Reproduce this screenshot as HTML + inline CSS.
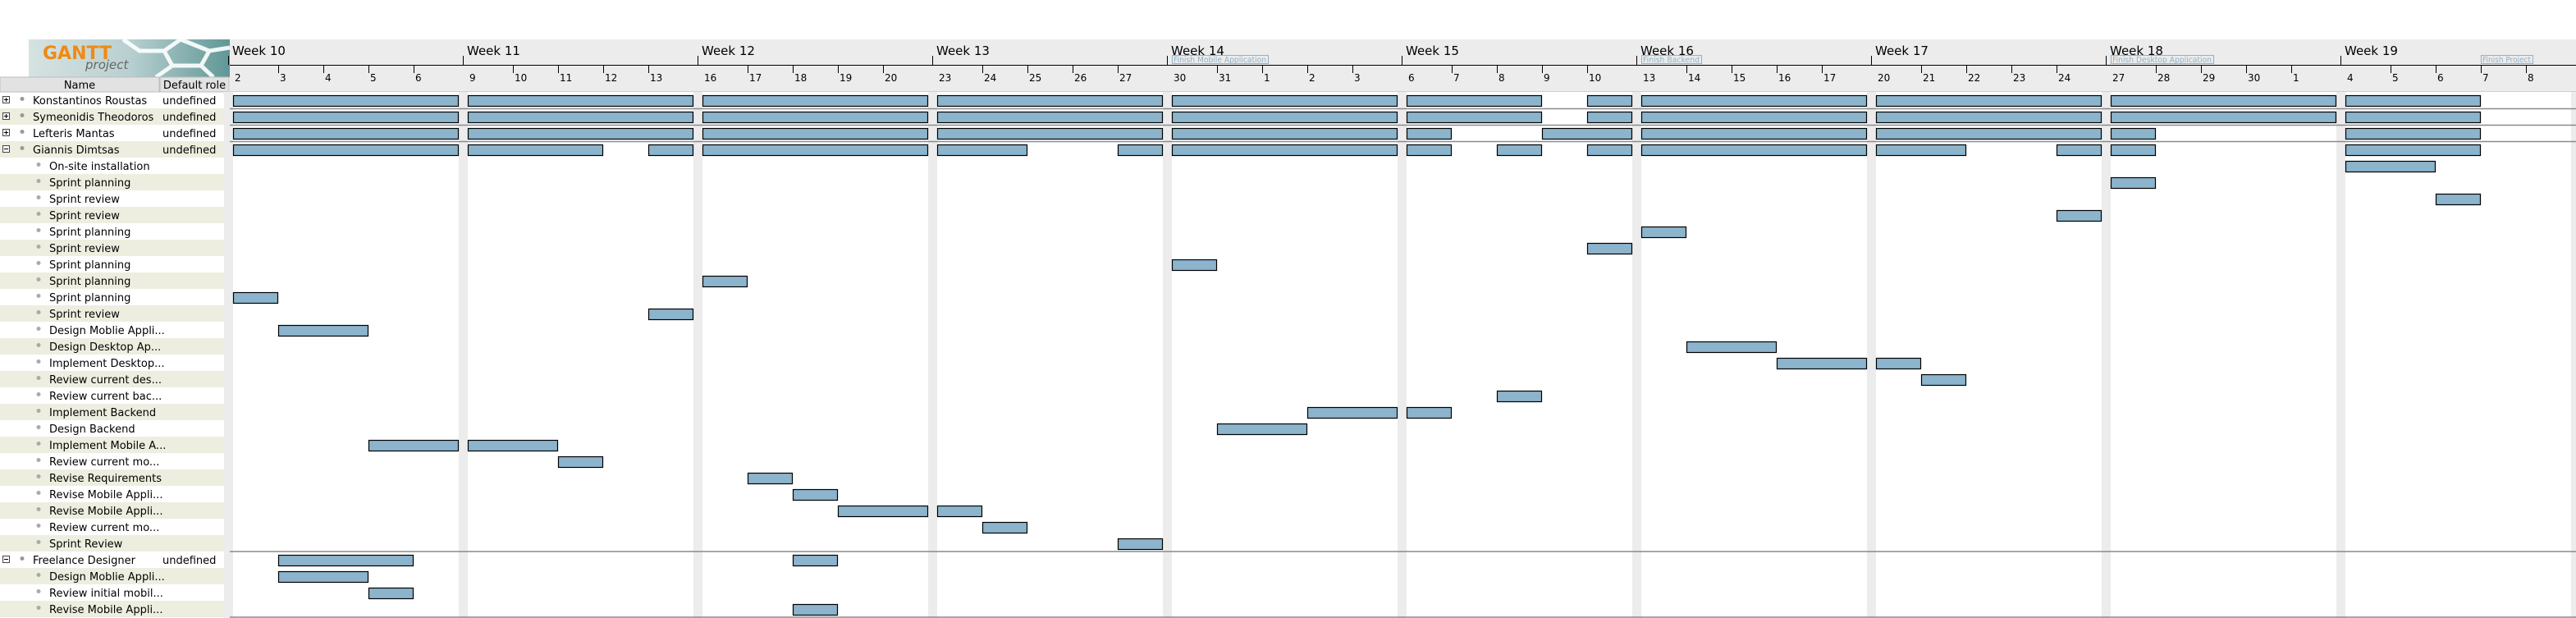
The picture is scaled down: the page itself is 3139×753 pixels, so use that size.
<!DOCTYPE html>
<html><head><meta charset="utf-8"><style>
html,body{margin:0;padding:0;background:#fff;width:3139px;height:753px;overflow:hidden}
svg{display:block}
text{font-family:"DejaVu Sans","Liberation Sans",sans-serif;fill:#000}
</style></head><body>
<svg id="s" width="3139" height="753" viewBox="0 0 3139 753" xmlns="http://www.w3.org/2000/svg">
<defs>
<linearGradient id="lg" x1="0" y1="0" x2="1" y2="0">
<stop offset="0" stop-color="#d6e2e2"/><stop offset="0.5" stop-color="#b9d0d0"/><stop offset="1" stop-color="#5f9796"/>
</linearGradient>
</defs>
<!-- header bg -->
<rect x="280" y="48" width="2859" height="64" fill="#ececec"/>
<line x1="280" y1="111.5" x2="3139" y2="111.5" stroke="#cfcfcf"/>
<line x1="280" y1="79.5" x2="3139" y2="79.5" stroke="#000"/>
<!-- logo -->
<rect x="35" y="48" width="245" height="46" fill="url(#lg)"/>
<g fill="none" stroke="#fff" stroke-width="5" opacity="0.9">
<path d="M150 48 L170 62 L200 62 L220 48 M200 62 L210 80 L190 94 M210 80 L245 80 L260 94 M245 80 L255 62 L280 58 M220 48 L255 62"/>
</g>
<text x="52" y="72" font-family="Liberation Sans,sans-serif" font-weight="bold" font-size="22" style="fill:#f08a12">GANTT</text>
<text x="104" y="84" font-family="Liberation Serif,serif" font-style="italic" font-size="15" style="fill:#666">project</text>
<!-- table header -->
<rect x="0" y="94" width="194" height="18" fill="#e2e2e2" stroke="#bdbdbd"/>
<rect x="195" y="94" width="84" height="18" fill="#e2e2e2" stroke="#bdbdbd"/>
<text x="97" y="108" font-size="13" text-anchor="middle">Name</text>
<text x="237" y="108" font-size="13" text-anchor="middle">Default role</text>
<g id="rowbg"></g>
<g id="grid"></g>
<g id="bars"></g>
<g font-size="15">
<text x="283" y="67">Week 10</text><text x="569" y="67">Week 11</text><text x="855" y="67">Week 12</text><text x="1141" y="67">Week 13</text><text x="1427" y="67">Week 14</text><text x="1713" y="67">Week 15</text><text x="1999" y="67">Week 16</text><text x="2285" y="67">Week 17</text><text x="2571" y="67">Week 18</text><text x="2857" y="67">Week 19</text>
</g>
<g font-size="12">
<text x="286" y="99">2</text><text x="341" y="99">3</text><text x="396" y="99">4</text><text x="451" y="99">5</text><text x="506" y="99">6</text>
<text x="572" y="99">9</text><text x="627" y="99">10</text><text x="682" y="99">11</text><text x="737" y="99">12</text><text x="792" y="99">13</text>
<text x="858" y="99">16</text><text x="913" y="99">17</text><text x="968" y="99">18</text><text x="1023" y="99">19</text><text x="1078" y="99">20</text>
<text x="1144" y="99">23</text><text x="1199" y="99">24</text><text x="1254" y="99">25</text><text x="1309" y="99">26</text><text x="1364" y="99">27</text>
<text x="1430" y="99">30</text><text x="1485" y="99">31</text><text x="1540" y="99">1</text><text x="1595" y="99">2</text><text x="1650" y="99">3</text>
<text x="1716" y="99">6</text><text x="1771" y="99">7</text><text x="1826" y="99">8</text><text x="1881" y="99">9</text><text x="1936" y="99">10</text>
<text x="2002" y="99">13</text><text x="2057" y="99">14</text><text x="2112" y="99">15</text><text x="2167" y="99">16</text><text x="2222" y="99">17</text>
<text x="2288" y="99">20</text><text x="2343" y="99">21</text><text x="2398" y="99">22</text><text x="2453" y="99">23</text><text x="2508" y="99">24</text>
<text x="2574" y="99">27</text><text x="2629" y="99">28</text><text x="2684" y="99">29</text><text x="2739" y="99">30</text><text x="2794" y="99">1</text>
<text x="2860" y="99">4</text><text x="2915" y="99">5</text><text x="2970" y="99">6</text><text x="3025" y="99">7</text><text x="3080" y="99">8</text>
</g>
<!-- milestones -->
<g font-family="Liberation Sans,sans-serif" font-size="10">
<rect x="1428.5" y="67.5" width="117" height="10" fill="#ececec" stroke="#8db3cc"/><text x="1430" y="76" textLength="113" lengthAdjust="spacingAndGlyphs" font-family="Liberation Sans,sans-serif" style="fill:#8db3cc">Finish Mobile Application</text>
<rect x="2000.5" y="67.5" width="73" height="10" fill="#ececec" stroke="#8db3cc"/><text x="2002" y="76" textLength="69" lengthAdjust="spacingAndGlyphs" font-family="Liberation Sans,sans-serif" style="fill:#8db3cc">Finish Backend</text>
<rect x="2572.5" y="67.5" width="125" height="10" fill="#ececec" stroke="#8db3cc"/><text x="2574" y="76" textLength="121" lengthAdjust="spacingAndGlyphs" font-family="Liberation Sans,sans-serif" style="fill:#8db3cc">Finish Desktop Application</text>
<rect x="3023.5" y="67.5" width="63" height="10" fill="#ececec" stroke="#8db3cc"/><text x="3025" y="76" textLength="59" lengthAdjust="spacingAndGlyphs" font-family="Liberation Sans,sans-serif" style="fill:#8db3cc">Finish Project</text>
</g>
<!-- names -->
<g font-size="13">
<text x="40" y="127">Konstantinos Roustas</text><text x="198" y="127">undefined</text>
<text x="40" y="147">Symeonidis Theodoros</text><text x="198" y="147">undefined</text>
<text x="40" y="167">Lefteris Mantas</text><text x="198" y="167">undefined</text>
<text x="40" y="187">Giannis Dimtsas</text><text x="198" y="187">undefined</text>
<text x="60" y="207">On-site installation</text>
<text x="60" y="227">Sprint planning</text>
<text x="60" y="247">Sprint review</text>
<text x="60" y="267">Sprint review</text>
<text x="60" y="287">Sprint planning</text>
<text x="60" y="307">Sprint review</text>
<text x="60" y="327">Sprint planning</text>
<text x="60" y="347">Sprint planning</text>
<text x="60" y="367">Sprint planning</text>
<text x="60" y="387">Sprint review</text>
<text x="60" y="407">Design Moblie Appli...</text>
<text x="60" y="427">Design Desktop Ap...</text>
<text x="60" y="447">Implement Desktop...</text>
<text x="60" y="467">Review current des...</text>
<text x="60" y="487">Review current bac...</text>
<text x="60" y="507">Implement Backend</text>
<text x="60" y="527">Design Backend</text>
<text x="60" y="547">Implement Mobile A...</text>
<text x="60" y="567">Review current mo...</text>
<text x="60" y="587">Revise Requirements</text>
<text x="60" y="607">Revise Mobile Appli...</text>
<text x="60" y="627">Revise Mobile Appli...</text>
<text x="60" y="647">Review current mo...</text>
<text x="60" y="667">Sprint Review</text>
<text x="40" y="687">Freelance Designer</text><text x="198" y="687">undefined</text>
<text x="60" y="707">Design Moblie Appli...</text>
<text x="60" y="727">Review initial mobil...</text>
<text x="60" y="747">Revise Mobile Appli...</text>
</g>
<g id="icons"></g>
</svg>
<script>
var NS="http://www.w3.org/2000/svg";
function el(p,t,a){var e=document.createElementNS(NS,t);for(var k in a)e.setAttribute(k,a[k]);document.getElementById(p).appendChild(e);return e;}
// row backgrounds left panel
for(var r=0;r<32;r++){ if(r%2==1) el("rowbg","rect",{x:0,y:112+20*r,width:280,height:20,fill:"#eeeee0"}); }
// weekend strips + ticks
for(var w=0;w<11;w++){var d0=284+286*w;
 el("grid","rect",{x:d0-11,y:112,width:11,height:641,fill:"#ececec"});
 if(w<10){el("grid","line",{x1:d0-5.5,y1:68,x2:d0-5.5,y2:79,stroke:"#000"});
  for(var d=1;d<5;d++){var x=d0+55*d+0.5;el("grid","line",{x1:x,y1:80,x2:x,y2:89,stroke:"#000"});}}
}
[132,152,172].forEach(function(y){el("grid","line",{x1:280,y1:y+0.5,x2:3139,y2:y+0.5,stroke:"#8a8a8a","stroke-width":1.5});});
el("grid","line",{x1:280,y1:672,x2:3139,y2:672,stroke:"#8a8a8a","stroke-width":1.5});
el("grid","line",{x1:280,y1:752,x2:3139,y2:752,stroke:"#8a8a8a","stroke-width":1.5});
var F=[[0,0,5],[1,0,5],[2,0,5],[3,0,5],[4,0,5]];
var B={0:F.concat([[5,0,3],[5,4,1],[6,0,5],[7,0,5],[8,0,5],[9,0,3]])};
B[1]=B[0];
B[2]=F.concat([[5,0,1],[5,3,2],[6,0,5],[7,0,5],[8,0,1],[9,0,3]]);
B[3]=[[0,0,5],[1,0,3],[1,4,1],[2,0,5],[3,0,2],[3,4,1],[4,0,5],[5,0,1],[5,2,1],[5,4,1],[6,0,5],[7,0,2],[7,4,1],[8,0,1],[9,0,3]];
B[4]=[[9,0,2]];B[5]=[[8,0,1]];B[6]=[[9,2,1]];B[7]=[[7,4,1]];B[8]=[[6,0,1]];B[9]=[[5,4,1]];
B[10]=[[4,0,1]];B[11]=[[2,0,1]];B[12]=[[0,0,1]];B[13]=[[1,4,1]];
B[14]=[[0,1,2]];B[15]=[[6,1,2]];B[16]=[[6,3,2],[7,0,1]];B[17]=[[7,1,1]];B[18]=[[5,2,1]];
B[19]=[[4,3,2],[5,0,1]];B[20]=[[4,1,2]];B[21]=[[0,3,2],[1,0,2]];B[22]=[[1,2,1]];B[23]=[[2,1,1]];
B[24]=[[2,2,1]];B[25]=[[2,3,2],[3,0,1]];B[26]=[[3,1,1]];B[27]=[[3,4,1]];
B[28]=[[0,1,3],[2,2,1]];B[29]=[[0,1,2]];B[30]=[[0,3,1]];B[31]=[[2,2,1]];
for(var r in B){B[r].forEach(function(b){var x=284+286*b[0]+55*b[1];
 el("bars","rect",{x:x+0.5,y:112+20*r+4.5,width:55*b[2]-1,height:13,fill:"#8cb4cc",stroke:"#000","stroke-width":1.2});});}
// icons
function box(y,minus){el("icons","rect",{x:3.5,y:y-4.5,width:8,height:8,fill:"#fff",stroke:"#444"});
 el("icons","line",{x1:5,y1:y-0.5,x2:10,y2:y-0.5,stroke:"#000"});
 if(!minus)el("icons","line",{x1:7.5,y1:y-3,x2:7.5,y2:y+2,stroke:"#000"});}
for(var r=0;r<32;r++){var cy=112+20*r+10;var res=(r<4||r==28);
 if(res){box(cy,r==3||r==28);el("icons","circle",{cx:27,cy:cy-1.5,r:2.5,fill:"#999"});}
 else el("icons","circle",{cx:47,cy:cy-1.5,r:2.5,fill:"#aaa"});}
</script>
</body></html>
